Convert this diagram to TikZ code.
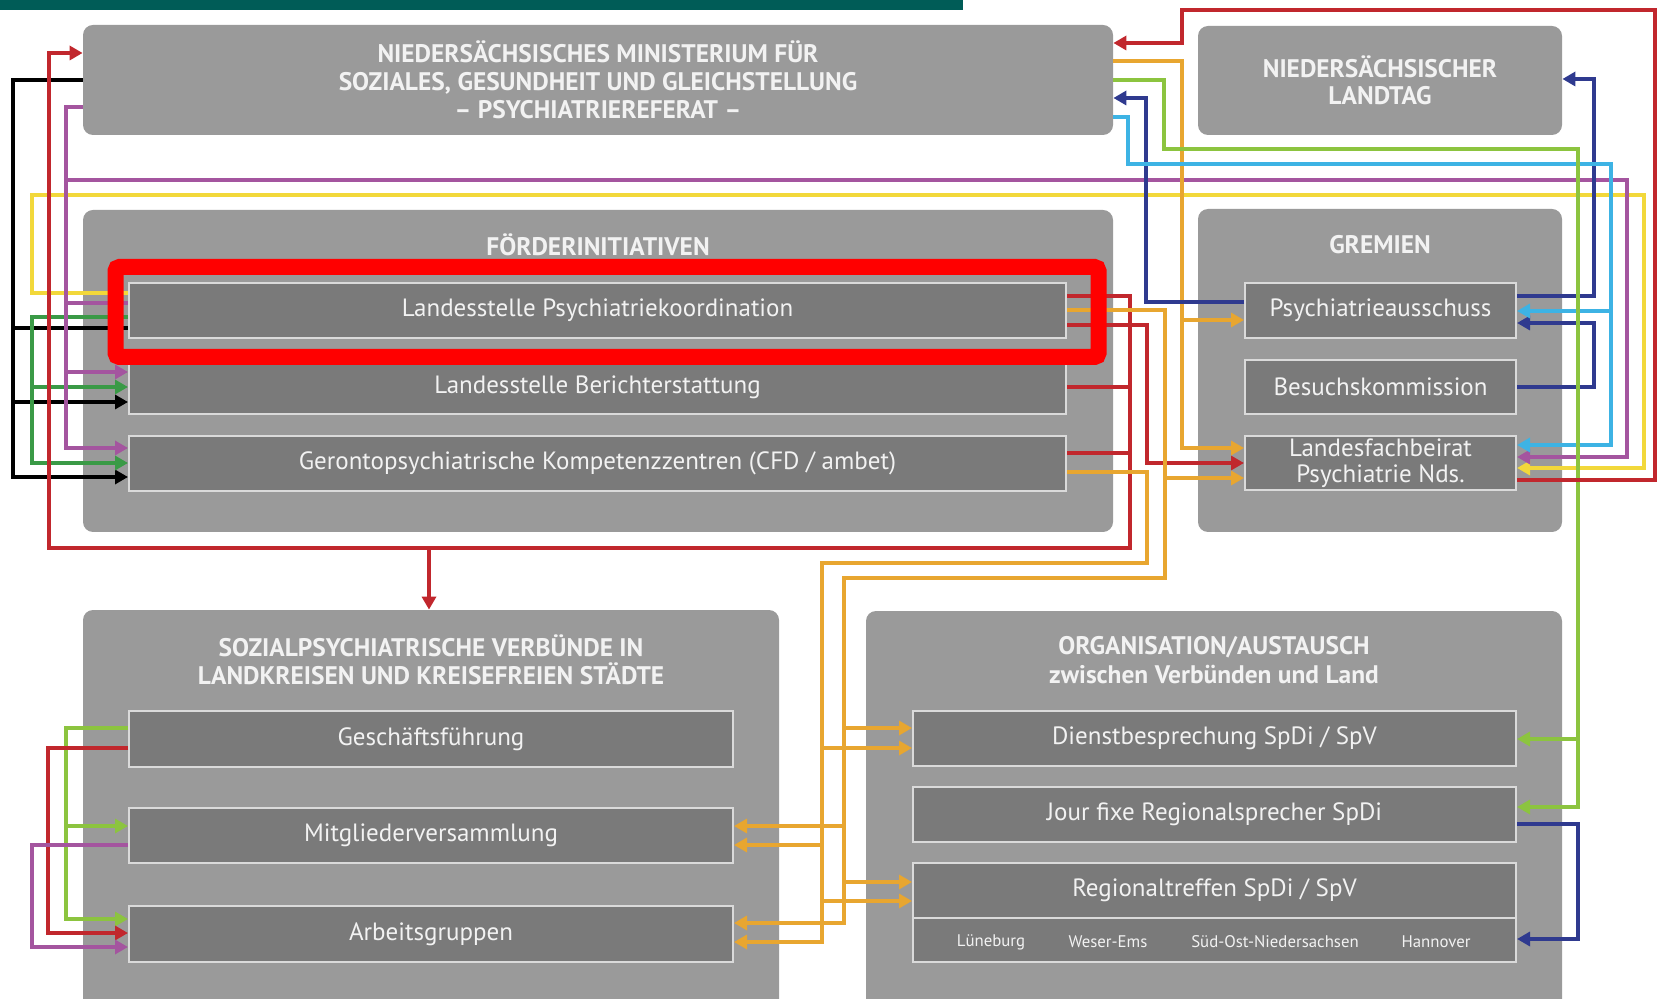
\documentclass[tikz,border=0pt]{standalone}
\usepackage{fontspec}
\setmainfont{PT Sans}
\usetikzlibrary{arrows.meta}
\definecolor{topbar}{HTML}{005C57}
\definecolor{boxgray}{HTML}{9A9A9A}
\definecolor{innergray}{HTML}{7A7A7A}
\definecolor{rimgray}{HTML}{DADADA}
\definecolor{txtw}{HTML}{F2F2F2}
\definecolor{cred}{HTML}{C1272D}
\definecolor{cor}{HTML}{E8A630}
\definecolor{cye}{HTML}{F2D83A}
\definecolor{cpu}{HTML}{A4559F}
\definecolor{cgd}{HTML}{3A9A46}
\definecolor{cgl}{HTML}{8CC43F}
\definecolor{ccy}{HTML}{3DB3E4}
\definecolor{cbl}{HTML}{2F3A8F}
\definecolor{hlred}{HTML}{FF0000}
\begin{document}
\begin{tikzpicture}[x=0.5pt,y=-0.5pt,
  place/.style n args={4}{at={({(#1+#3)/2},{(#2+#4)/2})},minimum width={(#3-#1)*0.5pt},minimum height={(#4-#2)*0.5pt}},
  outerbox/.style={fill=boxgray,draw=none,rounded corners=5pt,inner sep=0pt,anchor=center},
  innerbox/.style={fill=innergray,draw=rimgray,line width=1pt,inner sep=0pt,anchor=center,text=txtw,font=\fontsize{12.5}{13.2}\selectfont,align=center},
  titletext/.style={text=txtw,font=\bfseries\fontsize{12.7}{14}\selectfont,align=center,inner sep=0pt},
  regtext/.style={text=txtw,font=\fontsize{8.4}{10}\selectfont,inner sep=0pt},
  conn/.style={line width=1.8pt},
  tip/.style={-{Triangle[length=6.5pt,width=7pt]}},
]
\useasboundingbox (0,0) rectangle (1659,999);
\clip (0,0) rectangle (1659,999);
\fill[white] (0,0) rectangle (1659,999);
\fill[topbar] (0,0) rectangle (963,10);

% ---- outer boxes
\node[outerbox,place={83}{25}{1113}{135},titletext] (min) {NIEDERSÄCHSISCHES MINISTERIUM FÜR\\SOZIALES, GESUNDHEIT UND GLEICHSTELLUNG\\– PSYCHIATRIEREFERAT –};
\node[outerbox,place={1198}{26}{1562}{135},titletext,font=\bfseries\fontsize{12.7}{13.2}\selectfont] (lt) {NIEDERSÄCHSISCHER\\LANDTAG};
\node[outerbox,place={83}{210}{1113}{532}] (foe) {};
\node[titletext] (foet) at (598,245) {FÖRDERINITIATIVEN};
\node[outerbox,place={1198}{209}{1562}{532}] (gre) {};
\node[titletext] (gret) at (1380,245) {GREMIEN};
\node[outerbox,place={83}{610}{779}{1012}] (spv) {};
\node[titletext,font=\bfseries\fontsize{12.7}{14.3}\selectfont] (spvt) at (431,660) {SOZIALPSYCHIATRISCHE VERBÜNDE IN\\LANDKREISEN UND KREISEFREIEN STÄDTE};
\node[outerbox,place={866}{611}{1562}{1012}] (org) {};
\node[titletext,font=\bfseries\fontsize{12.7}{14.3}\selectfont] (orgt) at (1214,660) {ORGANISATION/AUSTAUSCH\\zwischen Verbünden und Land};

% ---- inner boxes
\node[innerbox,place={129}{283}{1066}{338}] (lpk) {Landesstelle Psychiatriekoordination};
\node[innerbox,place={129}{360}{1066}{414}] (lbe) {Landesstelle Berichterstattung};
\node[innerbox,place={129}{436}{1066}{491}] (gkz) {Gerontopsychiatrische Kompetenzzentren (CFD / ambet)};
\node[innerbox,place={1245}{283}{1516}{338}] (pa) {Psychiatrieausschuss};
\node[innerbox,place={1245}{360}{1516}{414}] (bk) {Besuchskommission};
\node[innerbox,place={1245}{436}{1516}{490}] (lfb) {Landesfachbeirat\\Psychiatrie Nds.};
\node[innerbox,place={129}{711}{733}{767}] (gf) {Geschäftsführung};
\node[innerbox,place={129}{808}{733}{863}] (mv) {Mitgliederversammlung};
\node[innerbox,place={129}{906}{733}{962}] (ag) {Arbeitsgruppen};
\node[innerbox,place={913}{711}{1516}{766}] (db) {Dienstbesprechung SpDi / SpV};
\node[innerbox,place={913}{787}{1516}{842}] (jf) {Jour fixe Regionalsprecher SpDi};
\node[innerbox,place={913}{863}{1516}{918}] (rt) {Regionaltreffen SpDi / SpV};
\node[innerbox,place={913}{918}{1516}{962}] (rts) {};
\node[regtext] (r1) at (991,942) {Lüneburg};
\node[regtext] (r2) at (1108,942) {Weser-Ems};
\node[regtext] (r3) at (1275,942) {Süd-Ost-Niedersachsen};
\node[regtext] (r4) at (1436,942) {Hannover};

% ---- connectors: black
\draw[conn,black] (min.west |- 0,80) -- (13,80) -- (13,328) -- (lpk.west |- 0,328);
\draw[conn,black,tip] (13,328) -- (13,402) -- (lbe.west |- 0,402);
\draw[conn,black,tip] (13,402) -- (13,477) -- (gkz.west |- 0,477);
% yellow
\draw[conn,cye,tip] (lpk.west |- 0,293) -- (32,293) -- (32,195) -- (1644,195) -- (1644,468) -- (lfb.east |- 0,468);
% dark green
\draw[conn,cgd] (lpk.west |- 0,317) -- (32,317) -- (32,387);
\draw[conn,cgd,tip] (32,387) -- (lbe.west |- 0,387);
\draw[conn,cgd,tip] (32,387) -- (32,463) -- (gkz.west |- 0,463);
% red bus
\draw[conn,cred,tip] (lpk.east |- 0,296) -- (1130,296) -- (1130,548) -- (49,548) -- (49,53) -- (min.west |- 0,53);
\draw[conn,cred] (lbe.east |- 0,387) -- (1130,387);
\draw[conn,cred] (gkz.east |- 0,453) -- (1130,453);
\draw[conn,cred,tip] (429,548) -- (spv.north -| 429,0);
% purple
\draw[conn,cpu] (min.west |- 0,107) -- (66,107) -- (66,303) -- (lpk.west |- 0,303);
\draw[conn,cpu,tip] (66,303) -- (66,372) -- (lbe.west |- 0,372);
\draw[conn,cpu,tip] (66,372) -- (66,448) -- (gkz.west |- 0,448);
\draw[conn,cpu,tip] (66,180) -- (1627,180) -- (1627,457) -- (lfb.east |- 0,457);
% red to Landesfachbeirat
\draw[conn,cred,tip] (lpk.east |- 0,325) -- (1147,325) -- (1147,463) -- (lfb.west |- 0,463);
% orange from Ministry
\draw[conn,cor,tip] (min.east |- 0,61) -- (1182,61) -- (1182,448) -- (lfb.west |- 0,448);
\draw[conn,cor,tip] (1182,320) -- (pa.west |- 0,320);
% orange from Landesstelle Psychiatriekoordination
\draw[conn,cor,tip] (lpk.east |- 0,310) -- (1165,310) -- (1165,578) -- (844,578) -- (844,923) -- (ag.east |- 0,923);
\draw[conn,cor,tip] (1165,478) -- (lfb.west |- 0,478);
\draw[conn,cor,tip] (844,728) -- (db.west |- 0,728);
\draw[conn,cor,tip] (844,826) -- (mv.east |- 0,826);
\draw[conn,cor,tip] (844,882) -- (rt.west |- 0,882);
% orange from Gerontopsychiatrische Kompetenzzentren
\draw[conn,cor,tip] (gkz.east |- 0,472) -- (1147,472) -- (1147,563) -- (822,563) -- (822,942) -- (ag.east |- 0,942);
\draw[conn,cor,tip] (822,748) -- (db.west |- 0,748);
\draw[conn,cor,tip] (822,845) -- (mv.east |- 0,845);
\draw[conn,cor,tip] (822,901) -- (rt.west |- 0,901);
% blue
\draw[conn,cbl,tip] (pa.west |- 0,302) -- (1146,302) -- (1146,98) -- (min.east |- 0,98);
\draw[conn,cbl,tip] (pa.east |- 0,296) -- (1594,296) -- (1594,79) -- (lt.east |- 0,79);
\draw[conn,cbl,tip] (bk.east |- 0,387) -- (1594,387) -- (1594,323) -- (pa.east |- 0,323);
\draw[conn,cbl,tip] (jf.east |- 0,824) -- (1578,824) -- (1578,939) -- (rts.east |- 0,939);
% cyan
\draw[conn,ccy,tip] (min.east |- 0,117) -- (1128,117) -- (1128,164) -- (1611,164) -- (1611,445) -- (lfb.east |- 0,445);
\draw[conn,ccy,tip] (1611,311) -- (pa.east |- 0,311);
% light green
\draw[conn,cgl,tip] (min.east |- 0,80) -- (1164,80) -- (1164,149) -- (1578,149) -- (1578,807) -- (jf.east |- 0,807);
\draw[conn,cgl,tip] (1578,739) -- (db.east |- 0,739);
% red: Landesfachbeirat to Ministry
\draw[conn,cred,tip] (lfb.east |- 0,480) -- (1655,480) -- (1655,10) -- (1182,10) -- (1182,43) -- (min.east |- 0,43);
% bottom left
\draw[conn,cgl,tip] (gf.west |- 0,728) -- (66,728) -- (66,919) -- (ag.west |- 0,919);
\draw[conn,cgl,tip] (66,826) -- (mv.west |- 0,826);
\draw[conn,cred,tip] (gf.west |- 0,748) -- (48,748) -- (48,933) -- (ag.west |- 0,933);
\draw[conn,cpu,tip] (mv.west |- 0,845) -- (32,845) -- (32,947) -- (ag.west |- 0,947);

% ---- highlight frame
\draw[hlred,line width=8pt,rounded corners=2pt] (115.5,267) rectangle (1098.5,357);
\end{tikzpicture}
\end{document}
